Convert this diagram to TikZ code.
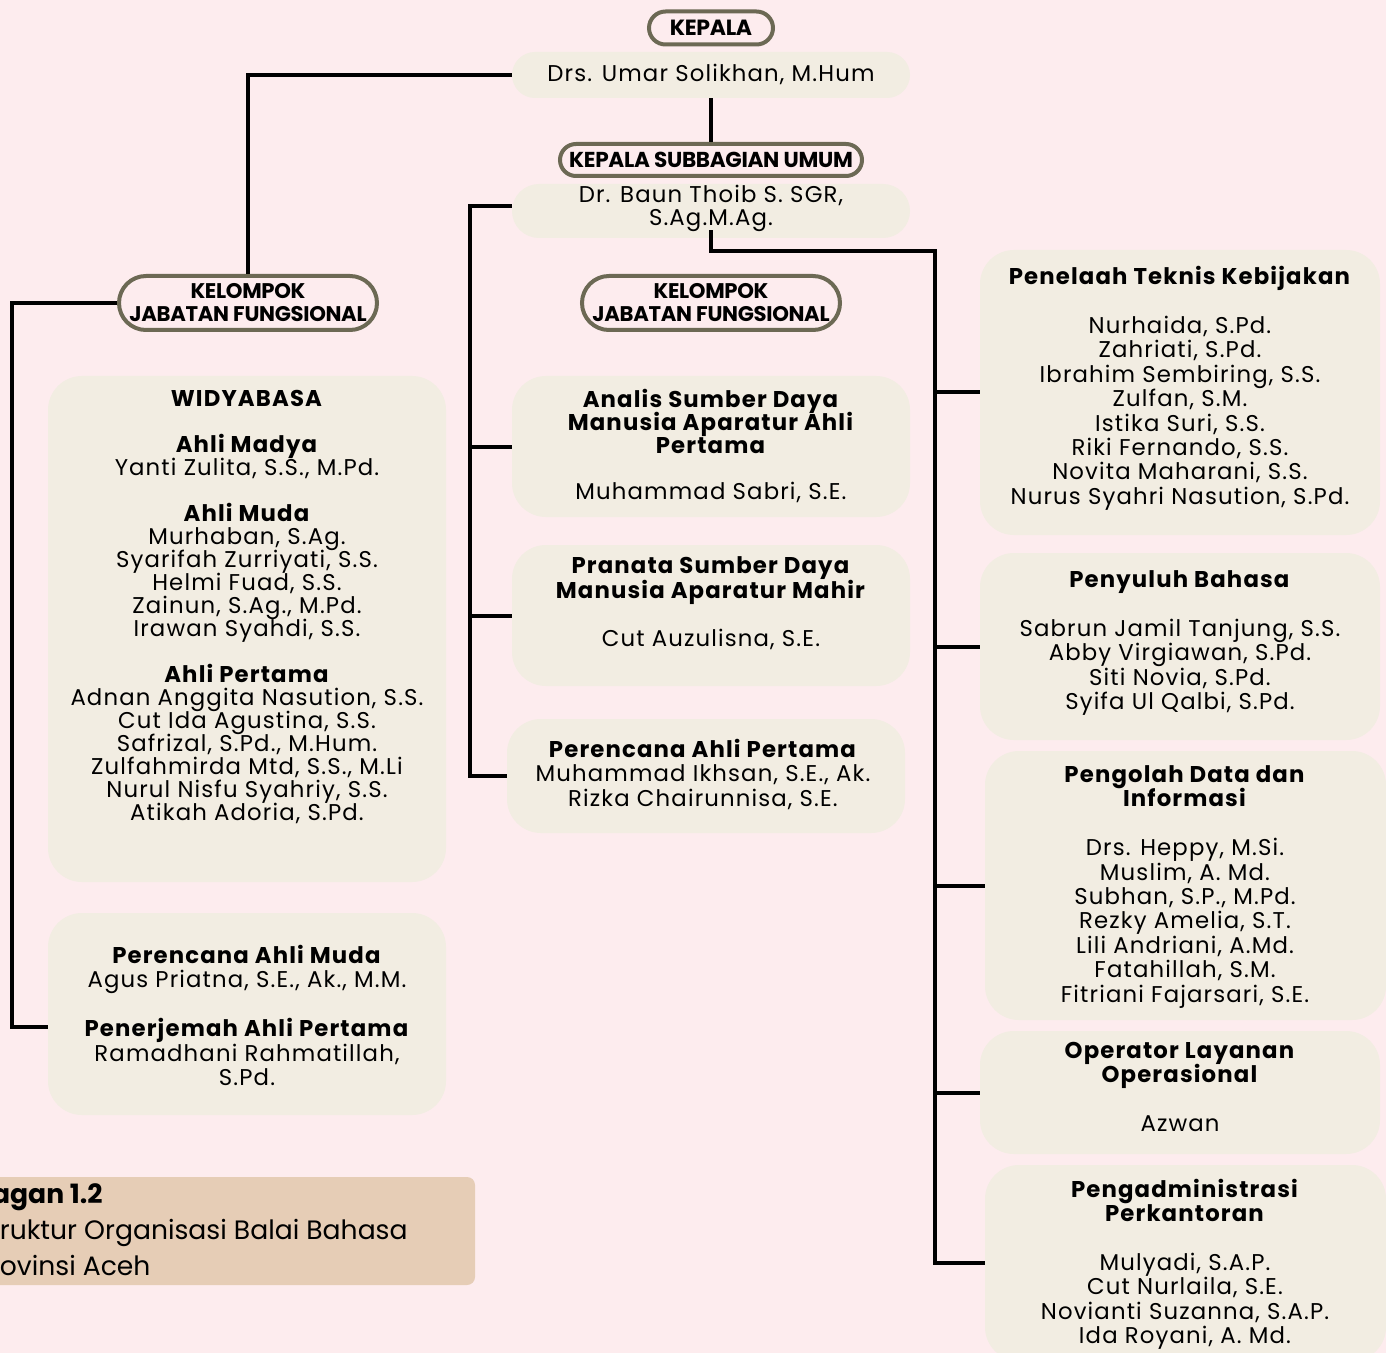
\documentclass[tikz,border=0pt]{standalone}
\usepackage{fontspec}
\setmainfont{Poppins}
\newfontfamily\namefont[LetterSpace=5]{Poppins}
\newfontfamily\headfont[LetterSpace=-1.5]{Poppins}
\newfontfamily\capfont{Poppins}
\usetikzlibrary{positioning, calc, shapes.misc}

\definecolor{pagebg}{RGB}{253,236,238}
\definecolor{cardbg}{RGB}{242,237,226}
\definecolor{pillline}{RGB}{108,105,84}
\definecolor{capbg}{RGB}{230,205,182}

\begin{document}
\begin{tikzpicture}[
    x=0.5pt, y=-0.5pt,
    card/.style={fill=cardbg, rounded corners=17pt, inner sep=0pt},
    bar/.style={fill=cardbg, inner sep=0pt, minimum width=199pt},
    pill/.style={draw=pillline, line width=2pt, fill=pagebg, rounded rectangle, inner sep=0pt, align=center},
    txt/.style={align=center, inner sep=0pt, font=\namefont\fontsize{11.4}{11.5}\selectfont,
        execute at begin node={\lineskiplimit=-20pt\relax\strut}, execute at end node=\strut},
    txtR/.style={txt, font=\namefont\fontsize{11.4}{12.2}\selectfont},
    wire/.style={draw=black, line width=2pt}
]
    \useasboundingbox (0,0) rectangle (1386,1353);
    \fill[pagebg] (0,0) rectangle (1386,1353);
    \clip (0,0) rectangle (1386,1353);

    % --- Kepala ---
    \node[pill, minimum width=62pt, minimum height=16.5pt, font=\headfont\bfseries\fontsize{11}{12}\selectfont] (kepala) at (711,28) {KEPALA};
    \node[bar, minimum height=23pt, rounded corners=11.5pt] (boss) at (711,75) {};
    \node[txt] (bossT) at (711,76) {Drs. Umar Solikhan, M.Hum};

    \node[pill, minimum width=151pt, minimum height=16pt, font=\headfont\bfseries\fontsize{10.8}{12}\selectfont] (subhead) at (711,160) {KEPALA SUBBAGIAN UMUM};
    \node[bar, minimum height=27pt, rounded corners=13.5pt] (sub) at (711,211) {};
    \node[txt] (subT) at (711,209) {Dr. Baun Thoib S. SGR,\\S.Ag.M.Ag.};

    % --- Kelompok jabatan fungsional ---
    \node[pill, minimum width=129pt, minimum height=27pt, font=\headfont\bfseries\fontsize{10.6}{11.5}\selectfont] (grpL) at (248,303) {KELOMPOK\\JABATAN FUNGSIONAL};
    \node[pill, minimum width=129pt, minimum height=27pt, font=\headfont\bfseries\fontsize{10.6}{11.5}\selectfont] (grpM) at (711,303) {KELOMPOK\\JABATAN FUNGSIONAL};

    % --- Left column ---
    \node[card, minimum width=199pt, minimum height=253pt] (widya) at (247,629) {};
    \node[txt] (widyaT) at (247,609) {\textbf{WIDYABASA}\\[\baselineskip]
        \textbf{Ahli Madya}\\Yanti Zulita, S.S., M.Pd.\\[\baselineskip]
        \textbf{Ahli Muda}\\Murhaban, S.Ag.\\Syarifah Zurriyati, S.S.\\Helmi Fuad, S.S.\\Zainun, S.Ag., M.Pd.\\Irawan Syahdi, S.S.\\[\baselineskip]
        \textbf{Ahli Pertama}\\Adnan Anggita Nasution, S.S.\\Cut Ida Agustina, S.S.\\Safrizal, S.Pd., M.Hum.\\Zulfahmirda Mtd, S.S., M.Li\\Nurul Nisfu Syahriy, S.S.\\Atikah Adoria, S.Pd.};

    \node[card, minimum width=199pt, minimum height=101pt] (pmuda) at (247,1014) {};
    \node[txtR] (pmudaT) at (247,1019) {\textbf{Perencana Ahli Muda}\\Agus Priatna, S.E., Ak., M.M.\\[\baselineskip]
        \textbf{Penerjemah Ahli Pertama}\\Ramadhani Rahmatillah,\\S.Pd.};

    % --- Middle column ---
    \node[card, minimum width=199pt, minimum height=70.5pt] (analis) at (711,446.5) {};
    \node[txt] (analisT) at (711,448) {\textbf{Analis Sumber Daya}\\\textbf{Manusia Aparatur Ahli}\\\textbf{Pertama}\\[\baselineskip]Muhammad Sabri, S.E.};

    \node[card, minimum width=199pt, minimum height=70.5pt] (pranata) at (711,615.5) {};
    \node[txtR] (pranataT) at (711,605.5) {\textbf{Pranata Sumber Daya}\\\textbf{Manusia Aparatur Mahir}\\[\baselineskip]Cut Auzulisna, S.E.};

    \node[card, minimum width=199pt, minimum height=57pt] (perper) at (706,776) {};
    \node[txtR] (perperT) at (703,776.5) {\textbf{Perencana Ahli Pertama}\\Muhammad Ikhsan, S.E., Ak.\\Rizka Chairunnisa, S.E.};

    % --- Right column ---
    \node[card, minimum width=200pt, minimum height=142.5pt] (penelaah) at (1180,392.5) {};
    \node[txtR] (penelaahT) at (1180,389) {\textbf{Penelaah Teknis Kebijakan}\\[\baselineskip]
        Nurhaida, S.Pd.\\Zahriati, S.Pd.\\Ibrahim Sembiring, S.S.\\Zulfan, S.M.\\Istika Suri, S.S.\\Riki Fernando, S.S.\\Novita Maharani, S.S.\\Nurus Syahri Nasution, S.Pd.};

    \node[card, minimum width=200pt, minimum height=93.5pt] (penyuluh) at (1180,646.5) {};
    \node[txtR] (penyuluhT) at (1180,644) {\textbf{Penyuluh Bahasa}\\[\baselineskip]
        Sabrun Jamil Tanjung, S.S.\\Abby Virgiawan, S.Pd.\\Siti Novia, S.Pd.\\Syifa Ul Qalbi, S.Pd.};

    \node[card, minimum width=200.5pt, minimum height=134.5pt] (pengolah) at (1185.5,885.5) {};
    \node[txtR] (pengolahT) at (1185,887.5) {\textbf{Pengolah Data dan}\\\textbf{Informasi}\\[\baselineskip]
        Drs. Heppy, M.Si.\\Muslim, A. Md.\\Subhan, S.P., M.Pd.\\Rezky Amelia, S.T.\\Lili Andriani, A.Md.\\Fatahillah, S.M.\\Fitriani Fajarsari, S.E.};

    \node[card, minimum width=200pt, minimum height=61.5pt] (operator) at (1180,1092.5) {};
    \node[txtR] (operatorT) at (1180,1090.5) {\textbf{Operator Layanan}\\\textbf{Operasional}\\[\baselineskip]Azwan};

    \node[card, minimum width=200.5pt, minimum height=98pt] (pengadm) at (1185.5,1263) {};
    \node[txtR] (pengadmT) at (1185,1265) {\textbf{Pengadministrasi}\\\textbf{Perkantoran}\\[\baselineskip]
        Mulyadi, S.A.P.\\Cut Nurlaila, S.E.\\Novianti Suzanna, S.A.P.\\Ida Royani, A. Md.};

    % --- Caption ---
    \node[fill=capbg, rounded corners=4pt, inner sep=0pt, minimum width=250pt, minimum height=54pt] (capbox) at (225,1231) {};
    \node[anchor=east, align=left, inner sep=0pt, font=\capfont\fontsize{13.3}{18}\selectfont] (capT) at (408,1230) {\textbf{Bagan 1.2}\\Struktur Organisasi Balai Bahasa\\Provinsi Aceh};

    % --- Connectors ---
    \coordinate (trunkL) at (12,600);
    \coordinate (trunkM) at (470,600);
    \coordinate (elbowR) at (935,251);

    \draw[wire] (boss.west) -| (grpL.north);
    \draw[wire] (boss.south) -- (subhead.north);
    \draw[wire] (grpL.west) -| (trunkL) |- ([yshift=-6.5pt]pmuda.west);

    \draw[wire] ([yshift=2.5pt]sub.west) -| (trunkM) |- (perper.west);
    \draw[wire] (trunkM |- analis.west) -- (analis.west);
    \draw[wire] (trunkM |- pranata.west) -- (pranata.west);

    \draw[wire] ([yshift=4pt]sub.south) |- (elbowR) |- (pengadm.west);
    \draw[wire] (elbowR |- penelaah.west) -- (penelaah.west);
    \draw[wire] (elbowR |- penyuluh.west) -- (penyuluh.west);
    \draw[wire] (elbowR |- pengolah.west) -- (pengolah.west);
    \draw[wire] (elbowR |- operator.west) -- (operator.west);
\end{tikzpicture}
\end{document}
